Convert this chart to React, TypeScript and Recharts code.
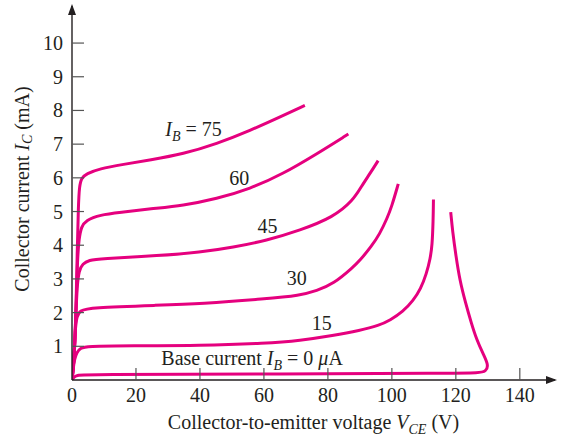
import { Line, LineChart, ReferenceDot, XAxis, YAxis, Label } from "recharts";

type Pt = { v: number; i: number };

const xTicks = [0, 20, 40, 60, 80, 100, 120, 140];
const yTicks = [1, 2, 3, 4, 5, 6, 7, 8, 9, 10];

const ib75: Pt[] = [
  { v: 0, i: 0 }, { v: 0.7, i: 0.6 }, { v: 1.3, i: 2.2 }, { v: 1.6, i: 3.7 }, { v: 2.0, i: 5.2 },
  { v: 2.3, i: 5.75 }, { v: 3.0, i: 6.0 }, { v: 4.5, i: 6.12 }, { v: 8.5, i: 6.27 }, { v: 16, i: 6.4 },
  { v: 24.4, i: 6.53 }, { v: 34.8, i: 6.71 }, { v: 45.2, i: 7.01 }, { v: 55.6, i: 7.4 }, { v: 66, i: 7.85 }, { v: 72.8, i: 8.15 },
];
const ib60: Pt[] = [
  { v: 0, i: 0 }, { v: 0.7, i: 0.6 }, { v: 1.3, i: 2.2 }, { v: 1.7, i: 3.6 }, { v: 2.2, i: 4.2 },
  { v: 2.9, i: 4.55 }, { v: 4.4, i: 4.74 }, { v: 8.5, i: 4.9 }, { v: 16, i: 4.98 }, { v: 24.4, i: 5.08 },
  { v: 34.8, i: 5.18 }, { v: 45.2, i: 5.38 }, { v: 55.6, i: 5.67 }, { v: 66, i: 6.12 }, { v: 76.5, i: 6.71 }, { v: 86.4, i: 7.3 },
];
const ib45: Pt[] = [
  { v: 0, i: 0 }, { v: 0.7, i: 0.6 }, { v: 1.2, i: 1.9 }, { v: 1.6, i: 2.8 }, { v: 2.2, i: 3.25 },
  { v: 3.3, i: 3.45 }, { v: 5.4, i: 3.56 }, { v: 8.5, i: 3.6 }, { v: 27.5, i: 3.69 }, { v: 40, i: 3.79 },
  { v: 50.4, i: 3.94 }, { v: 60.8, i: 4.14 }, { v: 71.25, i: 4.44 }, { v: 81.7, i: 4.83 },
  { v: 87.9, i: 5.33 }, { v: 90.5, i: 5.75 }, { v: 93.1, i: 6.12 }, { v: 95.7, i: 6.51 },
];
const ib30: Pt[] = [
  { v: 0, i: 0 }, { v: 0.6, i: 0.6 }, { v: 1.0, i: 1.5 }, { v: 1.5, i: 1.9 }, { v: 2.5, i: 2.06 },
  { v: 5.4, i: 2.15 }, { v: 27.5, i: 2.22 }, { v: 40, i: 2.26 }, { v: 60.8, i: 2.41 }, { v: 71.25, i: 2.51 },
  { v: 76.5, i: 2.65 }, { v: 81.7, i: 2.85 }, { v: 87.9, i: 3.35 }, { v: 90, i: 3.55 }, { v: 93.5, i: 3.95 },
  { v: 96.25, i: 4.34 }, { v: 98.5, i: 4.8 }, { v: 99.9, i: 5.13 }, { v: 102, i: 5.82 },
];
const ib15: Pt[] = [
  { v: 0, i: 0 }, { v: 0.4, i: 0.35 }, { v: 0.8, i: 0.62 }, { v: 1.5, i: 0.82 }, { v: 2.6, i: 0.95 },
  { v: 4.5, i: 1.0 }, { v: 18, i: 1.02 }, { v: 40, i: 1.02 }, { v: 60.8, i: 1.09 }, { v: 71.25, i: 1.17 },
  { v: 81.7, i: 1.32 }, { v: 90, i: 1.47 }, { v: 96, i: 1.62 }, { v: 99.4, i: 1.77 }, { v: 103.5, i: 2.03 },
  { v: 106.7, i: 2.36 }, { v: 109, i: 2.7 }, { v: 110.8, i: 3.15 }, { v: 112, i: 3.6 }, { v: 112.6, i: 4.0 },
  { v: 112.9, i: 4.7 }, { v: 113, i: 5.36 },
];
const ib0: Pt[] = [
  { v: 0, i: 0 }, { v: 0.5, i: 0.08 }, { v: 1.5, i: 0.14 }, { v: 4, i: 0.16 }, { v: 60, i: 0.18 },
  { v: 120, i: 0.2 }, { v: 127, i: 0.21 }, { v: 129.5, i: 0.25 }, { v: 130.2, i: 0.45 },
  { v: 128.5, i: 0.78 }, { v: 126.5, i: 1.2 }, { v: 124.9, i: 1.67 }, { v: 123, i: 2.3 },
  { v: 121.25, i: 2.95 }, { v: 120, i: 3.7 }, { v: 119, i: 4.4 }, { v: 118.4, i: 4.98 },
];

// label anchors (centre of text), in volts / mA
const curveLabels = [
  { v: 38, i: 7.45, kind: "ib", text: " = 75" },
  { v: 52.3, i: 6.0, kind: "plain", text: "60" },
  { v: 61.1, i: 4.58, kind: "plain", text: "45" },
  { v: 70.3, i: 3.04, kind: "plain", text: "30" },
  { v: 78.1, i: 1.68, kind: "plain", text: "15" },
  { v: 56.3, i: 0.66, kind: "base", text: " = 0 " },
];

const PINK = "#e5007e";
const INK = "#231f20";
const FONT = "'Liberation Serif', 'Times New Roman', serif";
const FS = 20;
const SUB = 14;

const YTick = (p: any) => {
  const { x, y, payload } = p;
  return (
    <g>
      <line x1={x} y1={y} x2={x + 12} y2={y} stroke="#555" strokeWidth={1.2} />
      <text x={x - 9} y={y + 7} textAnchor="end" fontSize={FS} fill={INK} fontFamily={FONT}>
        {payload.value}
      </text>
    </g>
  );
};

const XTick = (p: any) => {
  const { x, y, payload } = p;
  return (
    <g>
      {payload.value !== 0 && <line x1={x} y1={y} x2={x} y2={y - 12} stroke="#555" strokeWidth={1.2} />}
      <text x={x} y={y + 22} textAnchor="middle" fontSize={FS} fill={INK} fontFamily={FONT}>
        {payload.value}
      </text>
    </g>
  );
};

const renderLabel = (l: (typeof curveLabels)[number]) => (p: any) => {
  const { cx, cy } = p;
  return (
    <text x={cx} y={cy + 7} textAnchor="middle" fontSize={FS} fill={INK} fontFamily={FONT}>
      {l.kind === "base" && <tspan>Base current </tspan>}
      {l.kind !== "plain" && (
        <>
          <tspan fontStyle="italic">I</tspan>
          <tspan fontStyle="italic" fontSize={SUB} dy={5}>B</tspan>
          <tspan dy={-5}>{l.text}</tspan>
        </>
      )}
      {l.kind === "plain" && l.text}
      {l.kind === "base" && (
        <>
          <tspan fontStyle="italic">μ</tspan>
          <tspan>A</tspan>
        </>
      )}
    </text>
  );
};

const ArrowRight = (p: any) => (
  <polygon points={`${p.cx + 2},${p.cy} ${p.cx - 9},${p.cy - 4} ${p.cx - 9},${p.cy + 4}`} fill={INK} />
);
const ArrowUp = (p: any) => (
  <polygon points={`${p.cx},${p.cy - 2} ${p.cx - 4},${p.cy + 9} ${p.cx + 4},${p.cy + 9}`} fill={INK} />
);

const series = [ib75, ib60, ib45, ib30, ib15, ib0];

export default function App() {
  return (
    <div style={{ position: "absolute", left: 0, top: 0, background: "#fff" }}>
      <LineChart width={561} height={438} margin={{ top: 6, right: 6, bottom: 0, left: 0 }}>
        <XAxis
          type="number"
          dataKey="v"
          domain={[0, 151]}
          ticks={xTicks}
          tick={XTick}
          tickLine={false}
          tickSize={0}
          tickMargin={0}
          height={58}
          axisLine={{ stroke: INK, strokeWidth: 1.4 }}
          allowDataOverflow
        >
          <Label
            content={(p: any) => {
              const vb = p.viewBox;
              return (
                <text x={vb.x + vb.width / 2} y={vb.y + 49} textAnchor="middle" fontSize={FS} fill={INK} fontFamily={FONT}>
                  Collector-to-emitter voltage{" "}
                  <tspan fontStyle="italic">V</tspan>
                  <tspan fontStyle="italic" fontSize={SUB} dy={5}>CE</tspan>
                  <tspan dy={-5}> (V)</tspan>
                </text>
              );
            }}
          />
        </XAxis>
        <YAxis
          type="number"
          dataKey="i"
          domain={[0, 11.1]}
          ticks={yTicks}
          tick={YTick}
          tickLine={false}
          tickSize={0}
          tickMargin={0}
          width={72}
          axisLine={{ stroke: INK, strokeWidth: 1.4 }}
          allowDataOverflow
        >
          <Label
            content={(p: any) => {
              const vb = p.viewBox;
              const cy = vb.y + vb.height / 2 - 4;
              return (
                <text
                  x={22}
                  y={cy}
                  transform={`rotate(-90, 22, ${cy})`}
                  textAnchor="middle"
                  dominantBaseline="central"
                  fontSize={FS}
                  fill={INK}
                  fontFamily={FONT}
                >
                  Collector current <tspan fontStyle="italic">I</tspan>
                  <tspan fontStyle="italic" fontSize={SUB} dy={5}>C</tspan>
                  <tspan dy={-5}> (mA)</tspan>
                </text>
              );
            }}
          />
        </YAxis>
        {series.map((d, k) => (
          <Line
            key={k}
            data={d}
            dataKey="i"
            type="basis"
            stroke={PINK}
            strokeWidth={3}
            dot={false}
            activeDot={false}
            isAnimationActive={false}
          />
        ))}
        {curveLabels.map((l, k) => (
          <ReferenceDot key={k} x={l.v} y={l.i} r={0} ifOverflow="visible" shape={renderLabel(l)} />
        ))}
        <ReferenceDot x={151} y={0} r={0} ifOverflow="visible" shape={ArrowRight} />
        <ReferenceDot x={0} y={11.1} r={0} ifOverflow="visible" shape={ArrowUp} />
      </LineChart>
    </div>
  );
}
